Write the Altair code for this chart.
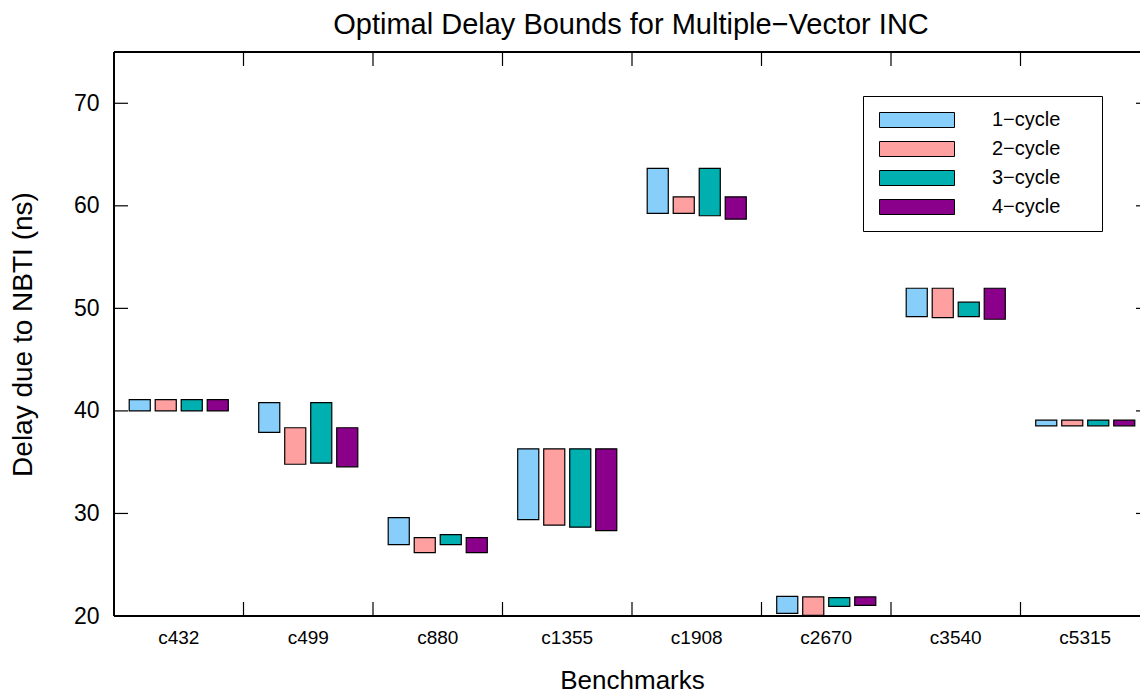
import altair as alt
import pandas as pd

benchmarks = ["c432", "c499", "c880", "c1355", "c1908", "c2670", "c3540", "c5315"]
series = ["1−cycle", "2−cycle", "3−cycle", "4−cycle"]
colors = ["#87CEFA", "#FFA0A0", "#00AFAF", "#8B008B"]

low_1 = [40.0, 37.9, 26.96, 29.4, 59.26, 20.26, 49.2, 38.55]
high_1 = [41.1, 40.8, 29.6, 36.3, 63.65, 21.92, 51.96, 39.1]
low_2 = [40.0, 34.8, 26.18, 28.86, 59.26, 20.07, 49.1, 38.55]
high_2 = [41.1, 38.36, 27.65, 36.3, 60.88, 21.86, 51.96, 39.1]
low_3 = [40.0, 34.9, 26.96, 28.66, 59.03, 20.94, 49.2, 38.55]
high_3 = [41.1, 40.8, 27.94, 36.3, 63.65, 21.79, 50.6, 39.1]
low_4 = [40.0, 34.55, 26.18, 28.33, 58.7, 21.04, 48.94, 38.55]
high_4 = [41.1, 38.36, 27.65, 36.3, 60.88, 21.86, 51.96, 39.1]

y_ticks = [20, 30, 40, 50, 60, 70]

lows = [low_1, low_2, low_3, low_4]
highs = [high_1, high_2, high_3, high_4]
rows = []
for s, lo, hi in zip(series, lows, highs):
    for b, l, h in zip(benchmarks, lo, hi):
        rows.append({"benchmark": b, "series": s, "low": l, "high": h})
df = pd.DataFrame(rows)
tick_df = pd.DataFrame({"v": y_ticks})
xt_df = pd.DataFrame({"benchmark": benchmarks})

FONT = "Liberation Sans"
W = 1026
H = 564
XR = 1036

xscale = alt.Scale(domain=benchmarks, range=[0, XR], paddingInner=0, paddingOuter=0)
yscale = alt.Scale(domain=[20, 75], nice=False, zero=False)

bars = alt.Chart(df).mark_bar(stroke="black", strokeWidth=1.2).encode(
    x=alt.X("benchmark:N", scale=xscale, sort=benchmarks,
            axis=alt.Axis(title="Benchmarks", labelAngle=0, ticks=False, domain=False,
                          labelFontSize=19, labelPadding=12, titleFontSize=26,
                          titlePadding=20, labelFont=FONT, titleFont=FONT,
                          labelColor="black", titleColor="black", titleFontWeight="normal")),
    xOffset=alt.XOffset("series:N", sort=series,
                        scale=alt.Scale(paddingInner=0.19, paddingOuter=0.585)),
    y=alt.Y("low:Q", scale=yscale,
            axis=alt.Axis(title="Delay due to NBTI (ns)", values=y_ticks, ticks=False,
                          domain=False, grid=False, labelFontSize=23, labelPadding=15,
                          titleFontSize=28, titlePadding=36, labelFont=FONT, titleFont=FONT,
                          labelColor="black", titleColor="black", titleFontWeight="normal")),
    y2="high:Q",
    color=alt.Color("series:N", sort=series,
                    scale=alt.Scale(domain=series, range=colors),
                    legend=alt.Legend(title=None, orient="none", legendX=749, legendY=44,
                                      strokeColor="black", fillColor="white", padding=14,
                                      symbolType="M-1,-1H9V1H-1Z M26.5,0",
                                      symbolSize=225,
                                      symbolStrokeColor="black", symbolStrokeWidth=1,
                                      symbolOpacity=1,
                                      labelFontSize=20, labelFont=FONT, labelColor="black",
                                      labelOffset=95, rowPadding=9, labelLimit=400)),
)

left_ticks = alt.Chart(tick_df).mark_rule(color="black", strokeWidth=1.2).encode(
    y=alt.Y("v:Q", scale=yscale), x=alt.value(0), x2=alt.value(14))
right_ticks = alt.Chart(tick_df).mark_rule(color="black", strokeWidth=1.2).encode(
    y=alt.Y("v:Q", scale=yscale), x=alt.value(XR - 14), x2=alt.value(XR))
bottom_ticks = alt.Chart(xt_df).mark_rule(color="black", strokeWidth=1.2).encode(
    x=alt.X("benchmark:N", scale=xscale, sort=benchmarks, bandPosition=0),
    y=alt.value(H - 14), y2=alt.value(H))
top_ticks = alt.Chart(xt_df).mark_rule(color="black", strokeWidth=1.2).encode(
    x=alt.X("benchmark:N", scale=xscale, sort=benchmarks, bandPosition=0),
    y=alt.value(0), y2=alt.value(14))

frame_top = alt.Chart(xt_df).mark_rule(color="black", strokeWidth=1.5).encode(
    x=alt.value(0), x2=alt.value(XR), y=alt.value(0))
frame_bottom = alt.Chart(xt_df).mark_rule(color="black", strokeWidth=1.5).encode(
    x=alt.value(0), x2=alt.value(XR), y=alt.value(H))
frame_left = alt.Chart(xt_df).mark_rule(color="black", strokeWidth=1.5).encode(
    x=alt.value(0), y=alt.value(0), y2=alt.value(H))
frame_right = alt.Chart(xt_df).mark_rule(color="black", strokeWidth=1.5).encode(
    x=alt.value(XR), y=alt.value(0), y2=alt.value(H))

chart = alt.layer(
    bars, left_ticks, right_ticks, bottom_ticks, top_ticks,
    frame_top, frame_bottom, frame_left, frame_right
).properties(
    width=W, height=H,
    title=alt.TitleParams("Optimal Delay Bounds for Multiple−Vector INC", fontSize=29,
                          font=FONT, fontWeight="normal", color="black", anchor="middle",
                          offset=11, dx=4),
    autosize=alt.AutoSizeParams(type="none"),
    padding={"left": 106, "top": 44, "right": 0, "bottom": 82},
).configure_view(stroke=None).configure(background="white")

chart.save("out.html", embed_options={"renderer": "svg", "actions": False})
